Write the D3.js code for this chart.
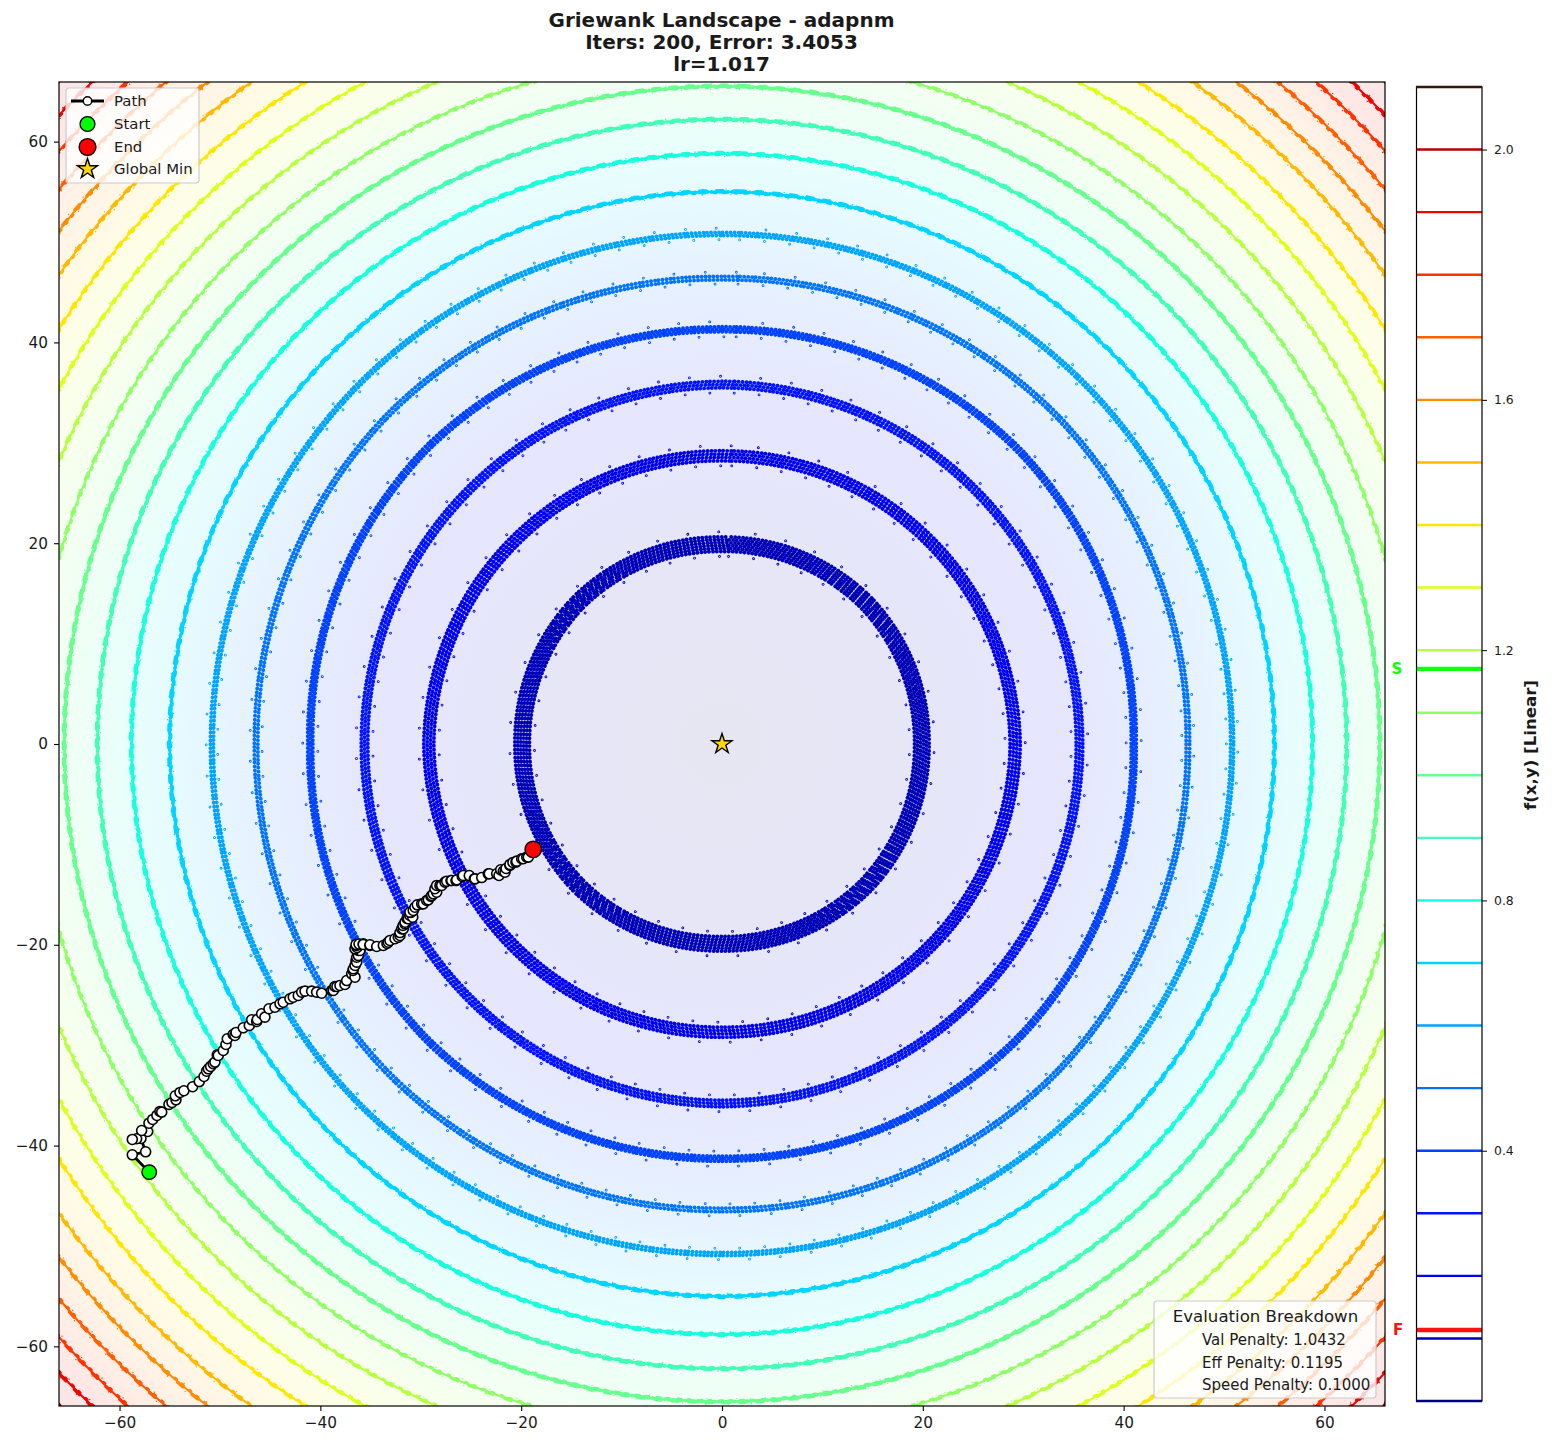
<!DOCTYPE html>
<html><head><meta charset="utf-8">
<script src="https://cdn.jsdelivr.net/npm/d3@7"></script>
<style>html,body{margin:0;background:#fff}svg{display:block}text{font-family:"DejaVu Sans";fill:#1a1a1a}</style>
</head><body><svg id="c" width="1552" height="1448"></svg>
<script>
const titleLines=["Griewank Landscape - adapnm","Iters: 200, Error: 3.4053","lr=1.017"];
const axisTicks=[-60,-40,-20,0,20,40,60];
const levels=[0.1,0.2,0.3,0.4,0.5,0.6,0.7,0.8,0.9,1.0,1.1,1.2,1.3,1.4,1.5,1.6,1.7,1.8,1.9,2.0];
const ringXRadius=[19.9,29.2,35.6,41.0,46.4,50.8,55,58.8,62.2,65.5,68.6,71.8,74.9,77.9,80.9,83.5,86.1,88.6,91,93.3];
const ringYRadius=[19.9,28.7,35.8,41.3,46.4,50.8,55,58.8,62.2,65.5,68.6,71.8,74.9,77.9,80.9,83.5,86.1,88.6,91,93.3];
const ringDiagRadius=[20.1,28.9,35.7,41.6,46.7,50.9,55,58.8,62.2,65.5,68.6,71.8,74.9,77.9,80.9,83.5,86.1,88.6,91,93.3];
const ringBandWidth=[1.45,1.0,0.65,0.5,0.35,0.3,0,0,0,0,0,0,0,0,0,0,0,0,0,0];
const colorbarTicks=[0.4,0.8,1.2,1.6,2.0];
const colorbarEnds=[0,2.1];
const startValue=1.17, finalValue=0.1135;
const pathPoints=[[-57.04,-42.65],[-58.73,-40.92],[-57.4,-40.62],[-57.87,-39.29],[-58.3,-39.32],[-58.73,-39.39],[-57.2,-38.6],[-57.8,-38.5],[-57.07,-37.77],[-56.7,-37.4],[-56.28,-37],[-55.98,-36.6],[-55.8,-36.67],[-55.08,-35.9],[-54.78,-35.71],[-54.38,-35.44],[-54.45,-35.04],[-53.98,-34.71],[-53.59,-34.54],[-52.72,-34.14],[-52.06,-33.62],[-51.59,-33.12],[-51.33,-32.59],[-51.16,-32.35],[-50.93,-32.12],[-50.67,-31.85],[-50.5,-31.69],[-50.27,-30.96],[-50.17,-31.03],[-49.67,-30.53],[-49.4,-29.93],[-49.27,-29.36],[-48.68,-28.93],[-48.51,-29.03],[-48.4,-28.73],[-47.68,-28.27],[-47.08,-28.04],[-46.84,-27.47],[-46.34,-27.64],[-46.28,-27.44],[-45.85,-26.87],[-45.52,-27.21],[-45.12,-26.37],[-44.52,-26.22],[-44.02,-25.88],[-43.7,-25.72],[-43.03,-25.38],[-42.7,-25.22],[-42.2,-25.05],[-41.86,-24.72],[-41.53,-24.62],[-40.87,-24.62],[-40.37,-24.72],[-39.87,-24.82],[-38.87,-24.55],[-38.71,-24.55],[-38.55,-24.15],[-38.35,-24.15],[-38.05,-24.05],[-37.55,-23.95],[-37.38,-23.56],[-36.88,-22.89],[-36.55,-23.23],[-36.75,-22.56],[-36.72,-22.39],[-36.55,-22.06],[-36.45,-21.56],[-36.38,-21.73],[-36.38,-21.24],[-36.22,-21.07],[-36.22,-20.57],[-36.06,-20.57],[-36.55,-20.4],[-36.35,-20.27],[-36.38,-20.07],[-36.45,-19.97],[-36.15,-19.92],[-35.73,-19.9],[-35.73,-19.97],[-35.06,-20.07],[-35.06,-20.0],[-34.39,-20.17],[-33.73,-20.07],[-33.37,-19.87],[-33.24,-19.74],[-33.07,-19.57],[-32.57,-19.4],[-32.24,-19.24],[-32.07,-19.07],[-32.07,-18.78],[-31.9,-18.41],[-31.74,-18.41],[-31.77,-18.08],[-31.57,-17.91],[-31.57,-17.75],[-31.37,-17.38],[-31.24,-17.41],[-31.08,-17.08],[-30.8,-17.25],[-30.98,-16.78],[-31.08,-16.75],[-30.75,-16.58],[-30.58,-16.26],[-30.35,-16.02],[-29.91,-15.92],[-29.75,-15.92],[-29.41,-15.59],[-29.25,-15.52],[-28.98,-15.19],[-28.91,-15.09],[-28.75,-14.92],[-28.42,-14.76],[-28.59,-14.42],[-28.42,-14.09],[-28.09,-14.09],[-27.92,-14.09],[-27.59,-13.76],[-27.42,-13.67],[-26.99,-13.6],[-26.92,-13.6],[-26.49,-13.6],[-26.42,-13.53],[-25.87,-13.2],[-25.77,-13.1],[-25.17,-13.1],[-24.67,-13.43],[-24.6,-13.43],[-23.93,-13.3],[-23.28,-12.93],[-23.18,-12.93],[-22.44,-12.93],[-22.21,-13.1],[-22.04,-12.53],[-21.78,-12.67],[-21.61,-12.77],[-21.51,-12.4],[-21.12,-12.1],[-21.12,-12.0],[-20.82,-11.8],[-20.52,-11.77],[-20.45,-11.67],[-19.95,-11.43],[-19.79,-11.43],[-19.45,-11.27],[-19.29,-11.27],[-18.8,-10.5]];
const legendLabels=["Path","Start","End","Global Min"];
const breakdownTitle="Evaluation Breakdown";
const breakdownLines=["Val Penalty: 1.0432","Eff Penalty: 0.1195","Speed Penalty: 0.1000"];

const svg=d3.select("#c");
const L=59,R=1385,T=82,B=1406;
const x=d3.scaleLinear().domain([-66.03,66.03]).range([L,R]);
const y=d3.scaleLinear().domain([-65.94,65.94]).range([B,T]);
const jetR=d3.scaleLinear().domain([0,.35,.66,.89,1]).range([0,0,1,1,.5]).clamp(true);
const jetG=d3.scaleLinear().domain([0,.125,.375,.64,.91,1]).range([0,0,1,1,0,0]).clamp(true);
const jetB=d3.scaleLinear().domain([0,.11,.34,.65,1]).range([.5,1,1,0,0]).clamp(true);
const cnorm=d3.scaleLinear().domain(colorbarEnds).range([0,1]);
const jet=v=>{const t=cnorm(v);return d3.rgb(jetR(t)*255,jetG(t)*255,jetB(t)*255).formatHex();};
const unit=x(1)-x(0);

const defs=svg.append("defs");
defs.append("clipPath").attr("id","plot").append("rect").attr("x",L).attr("y",T).attr("width",R-L).attr("height",B-T);
const grad=defs.append("radialGradient").attr("id","bg").attr("gradientUnits","userSpaceOnUse")
 .attr("cx",x(0)).attr("cy",y(0)).attr("r",unit*ringXRadius[19]);
grad.append("stop").attr("offset",0).attr("stop-color",jet(0)).attr("stop-opacity",.1);
levels.forEach((v,i)=>grad.append("stop").attr("offset",ringXRadius[i]/ringXRadius[19]).attr("stop-color",jet(v)).attr("stop-opacity",.1));

const plot=svg.append("g").attr("clip-path","url(#plot)");
plot.append("rect").attr("x",L).attr("y",T).attr("width",R-L).attr("height",B-T).attr("fill","url(#bg)");

const angles=d3.range(0,360,2);
function ringPath(i,offset){
 const fold=d3.scaleLinear().domain([0,45,90]).range([ringXRadius[i],ringDiagRadius[i],ringYRadius[i]]);
 return d3.lineRadial().curve(d3.curveCardinalClosed.tension(0.5))
  .angle(a=>a*Math.PI/180)
  .radius(a=>{const m=a%180,f=m>90?180-m:m;return (fold(90-f)+offset)*unit;})(angles);
}
const rings=plot.append("g").attr("transform",`translate(${x(0)},${y(0)})`);
levels.forEach((v,i)=>{
 const c=jet(v),b=ringBandWidth[i];
 const row=(o,w,dash,off,extra)=>rings.append("path").attr("d",ringPath(i,o)).attr("fill","none").attr("stroke",extra||c)
   .attr("stroke-width",w).attr("stroke-linecap","round").attr("stroke-dasharray",dash).attr("stroke-dashoffset",off);
 if(b===0){
  rings.append("path").attr("d",ringPath(i,0)).attr("fill","none").attr("stroke",c).attr("stroke-width",i<10?2.4:2.1);
  if(i<10){ row(0,3.8,"0.01 4.1",0); row(0.06,4.3,"6 11",2); row(-0.07,3.6,"2 7 3 9",6); }
  else { row(0.06,3.3,"7 12",0); row(-0.09,3,"2 7 2 8",5); }
  row(0.27,1.3,"0.01 23",3);
  row(-0.29,1.3,"0.01 29",11);
 }else{
  const n=Math.round(b*unit/3.1)+1;
  const sp=3.9;
  d3.range(n).forEach(k=>row(-b/2+b*k/(n-1),3.9,`0.01 ${sp}`,k*sp/2));
  row(0,1,"0.01 100",0);
  [-1,1].forEach((s,q)=>{
   const dash=q?"0.01 31":"0.01 25";
   const gap=i<4?.5:.42;
   row(s*(b/2+gap),2.8,dash,q*5);
   row(s*(b/2+gap),1.1,dash,q*5,"#eef");
  });
 }
});

const pts=pathPoints.map(d=>[x(d[0]),y(d[1])]);
const overlay=svg.append("g").attr("clip-path","url(#plot)");
overlay.append("path").attr("d",d3.line()(pts)).attr("fill","none").attr("stroke","#000").attr("stroke-width",2.8);
overlay.selectAll("circle.p").data(pts).join("circle").attr("class","p").attr("cx",d=>d[0]).attr("cy",d=>d[1]).attr("r",5)
 .attr("fill","#fff").attr("stroke","#000").attr("stroke-width",1.6);
overlay.append("circle").attr("cx",pts[0][0]).attr("cy",pts[0][1]).attr("r",7.2).attr("fill","#00ff00").attr("stroke","#000").attr("stroke-width",1.4);
overlay.append("circle").attr("cx",pts[pts.length-1][0]).attr("cy",pts[pts.length-1][1]).attr("r",8.2).attr("fill","#ff0000").attr("stroke","#000").attr("stroke-width",1.4);
const star=d3.symbol().type(d3.symbolStar).size(125);
overlay.append("path").attr("d",star()).attr("transform",`translate(${x(0)},${y(0)})`).attr("fill","#ffd700").attr("stroke","#000").attr("stroke-width",1.4);

svg.append("rect").attr("x",L).attr("y",T).attr("width",R-L).attr("height",B-T).attr("fill","none").attr("stroke","#000").attr("stroke-width",1.2);
const minus=d=>String(d).replace("-","\u2212");
const gx=svg.append("g").attr("transform",`translate(0,${B})`).call(d3.axisBottom(x).tickValues(axisTicks).tickSize(5).tickPadding(6).tickFormat(minus));
const gy=svg.append("g").attr("transform",`translate(${L},0)`).call(d3.axisLeft(y).tickValues(axisTicks).tickSize(5).tickPadding(6).tickFormat(minus));
[gx,gy].forEach(g=>{g.select(".domain").remove();g.selectAll("line").attr("stroke","#000").attr("stroke-width",1.1);g.selectAll("text").style("font-family","DejaVu Sans").style("font-size","15.3px").attr("fill","#1a1a1a");});

titleLines.forEach((s,i)=>svg.append("text").attr("x",721.5).attr("y",[27,49,71][i]).attr("text-anchor","middle").style("font-size","20px").style("font-weight","bold").text(s));

const lg=svg.append("g");
lg.append("rect").attr("x",66).attr("y",88).attr("width",133).attr("height",95).attr("rx",3).attr("fill","#fff").attr("fill-opacity",.8).attr("stroke","#ccc").attr("stroke-width",1.2);
const ly=[101,124,147,169];
lg.append("line").attr("x1",71).attr("x2",104).attr("y1",ly[0]).attr("y2",ly[0]).attr("stroke","#000").attr("stroke-width",2.8);
lg.append("circle").attr("cx",87.5).attr("cy",ly[0]).attr("r",4.2).attr("fill","#fff").attr("stroke","#000").attr("stroke-width",1.4);
lg.append("circle").attr("cx",87.5).attr("cy",ly[1]).attr("r",7.4).attr("fill","#00ff00").attr("stroke","#000").attr("stroke-width",1.4);
lg.append("circle").attr("cx",87.5).attr("cy",ly[2]).attr("r",8.4).attr("fill","#ff0000").attr("stroke","#000").attr("stroke-width",1.4);
lg.append("path").attr("d",star()).attr("transform",`translate(87.5,${ly[3]})`).attr("fill","#ffd700").attr("stroke","#000").attr("stroke-width",1.4);
legendLabels.forEach((s,i)=>lg.append("text").attr("x",114).attr("y",ly[i]+5).style("font-size","14.9px").text(s));

const bd=svg.append("g");
bd.append("rect").attr("x",1154).attr("y",1301).attr("width",222).attr("height",97).attr("rx",3).attr("fill","#fff").attr("fill-opacity",.8).attr("stroke","#ccc").attr("stroke-width",1.2);
bd.append("text").attr("x",1265.5).attr("y",1322).attr("text-anchor","middle").style("font-size","16.6px").text(breakdownTitle);
breakdownLines.forEach((s,i)=>bd.append("text").attr("x",1202).attr("y",[1345,1368,1390][i]).style("font-size","15px").text(s));

const cb=d3.scaleLinear().domain(colorbarEnds).range([1401,87]);
const cg=svg.append("g");
cg.selectAll("line.l").data(levels).join("line").attr("class","l").attr("x1",1416).attr("x2",1482)
 .attr("y1",d=>cb(d)).attr("y2",d=>cb(d)).attr("stroke",d=>jet(d)).attr("stroke-width",2.4);
cg.append("line").attr("x1",1416).attr("x2",1482).attr("y1",cb(startValue)).attr("y2",cb(startValue)).attr("stroke","#11ff11").attr("stroke-width",4.4);
cg.append("line").attr("x1",1416).attr("x2",1482).attr("y1",cb(finalValue)).attr("y2",cb(finalValue)).attr("stroke","#ff1111").attr("stroke-width",4.4);
cg.append("rect").attr("x",1416.5).attr("y",87).attr("width",65.5).attr("height",1314).attr("fill","none").attr("stroke","#000").attr("stroke-width",1.2);
cg.append("line").attr("x1",1416).attr("x2",1482).attr("y1",cb(0)).attr("y2",cb(0)).attr("stroke",jet(0)).attr("stroke-width",2.4);
cg.append("line").attr("x1",1416).attr("x2",1482).attr("y1",cb(2.1)).attr("y2",cb(2.1)).attr("stroke","#3a1408").attr("stroke-width",2.4);
const ca=cg.append("g").attr("transform","translate(1482,0)").call(d3.axisRight(cb).tickValues(colorbarTicks).tickSize(5).tickPadding(7).tickFormat(d3.format(".1f")));
ca.select(".domain").remove();ca.selectAll("line").attr("stroke","#000");ca.selectAll("text").style("font-family","DejaVu Sans").style("font-size","12.4px").attr("fill","#1a1a1a");
svg.append("text").attr("x",1397).attr("y",cb(startValue)+5.5).attr("text-anchor","middle").style("font-size","15px").style("font-weight","bold").style("fill","#11ff11").text("S");
svg.append("text").attr("x",1398).attr("y",cb(finalValue)+5.5).attr("text-anchor","middle").style("font-size","15px").style("font-weight","bold").style("fill","#ff1111").text("F");
svg.append("text").attr("transform","translate(1536,745) rotate(-90)").attr("text-anchor","middle").style("font-size","16.6px").style("font-weight","bold").text("f(x,y) [Linear]");
</script></body></html>
